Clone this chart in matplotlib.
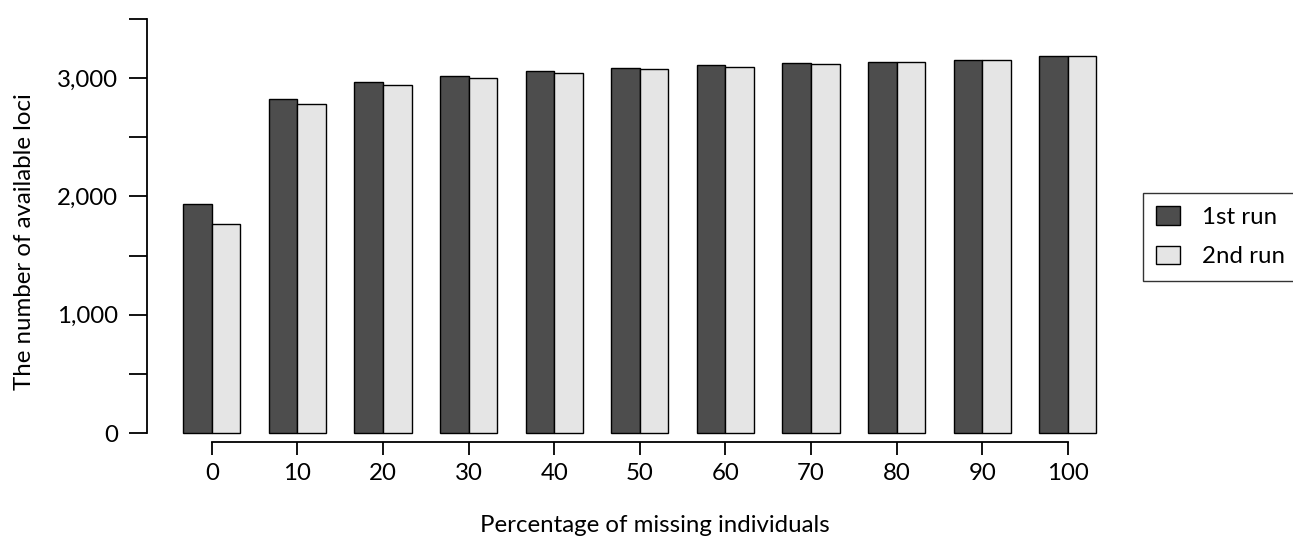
import matplotlib
matplotlib.use("Agg")
import matplotlib.pyplot as plt
import numpy as np
from matplotlib.patches import Patch

categories = [0, 10, 20, 30, 40, 50, 60, 70, 80, 90, 100]
run1 = [1933, 2826, 2971, 3022, 3062, 3085, 3110, 3124, 3138, 3152, 3188]
run2 = [1769, 2784, 2941, 3005, 3047, 3079, 3098, 3118, 3132, 3149, 3188]
series_names = ["1st run", "2nd run"]
ytick_vals = [0, 500, 1000, 1500, 2000, 2500, 3000, 3500]
ytick_labels = ["0", "", "1,000", "", "2,000", "", "3,000", ""]

plt.rcParams['font.family'] = ['Lato', 'DejaVu Sans']
FS = 17.3

fig = plt.figure(figsize=(12.93, 5.43), dpi=100)
ax = fig.add_axes([146.8/1293, 93.4/543, 986/1293, 447.2/543])

n = len(categories)
centers = np.arange(n) * 3 + 2
dark = "#4D4D4D"
light = "#E5E5E5"
ax.bar(centers - 0.5, run1, width=1, color=dark, edgecolor="black", linewidth=1.0)
ax.bar(centers + 0.5, run2, width=1, color=light, edgecolor="black", linewidth=1.0)

ax.set_xlim(-0.28, 34.28)
ax.set_ylim(-140, 3640)

for s in ["top", "right"]:
    ax.spines[s].set_visible(False)
ax.spines["left"].set_bounds(0, 3500)
ax.spines["bottom"].set_position(("data", -76))
ax.spines["bottom"].set_bounds(centers[0], centers[-1])
ax.spines["left"].set_linewidth(1.3)
ax.spines["bottom"].set_linewidth(1.3)

ax.set_xticks(centers)
ax.set_xticklabels([str(c) for c in categories], fontsize=FS)
ax.set_yticks(ytick_vals)
ax.set_yticklabels(ytick_labels, fontsize=FS)
ax.tick_params(axis="y", length=12.7, width=1.3, pad=8)
ax.tick_params(axis="x", length=9, width=1.3, pad=6)

ax.set_xlabel("Percentage of missing individuals", fontsize=FS)
ax.xaxis.set_label_coords(0.5154, -0.146)
ax.xaxis.label.set_va("top")
ax.set_ylabel("The number of available loci", fontsize=FS)
ax.yaxis.set_label_coords(-0.113, 0.464)

handles = [Patch(facecolor=dark, edgecolor="black", linewidth=1.0),
           Patch(facecolor=light, edgecolor="black", linewidth=1.0)]
leg = fig.legend(handles, series_names, loc="upper left",
                 bbox_to_anchor=(1143/1293, 1 - 193/543),
                 fontsize=FS, frameon=True, fancybox=False,
                 handlelength=1.0, handleheight=0.8, handletextpad=0.9,
                 borderpad=0.55, labelspacing=0.75, borderaxespad=0)
leg.get_frame().set_edgecolor("black")
leg.get_frame().set_linewidth(1.0)

fig.savefig("out.png", dpi=100)
